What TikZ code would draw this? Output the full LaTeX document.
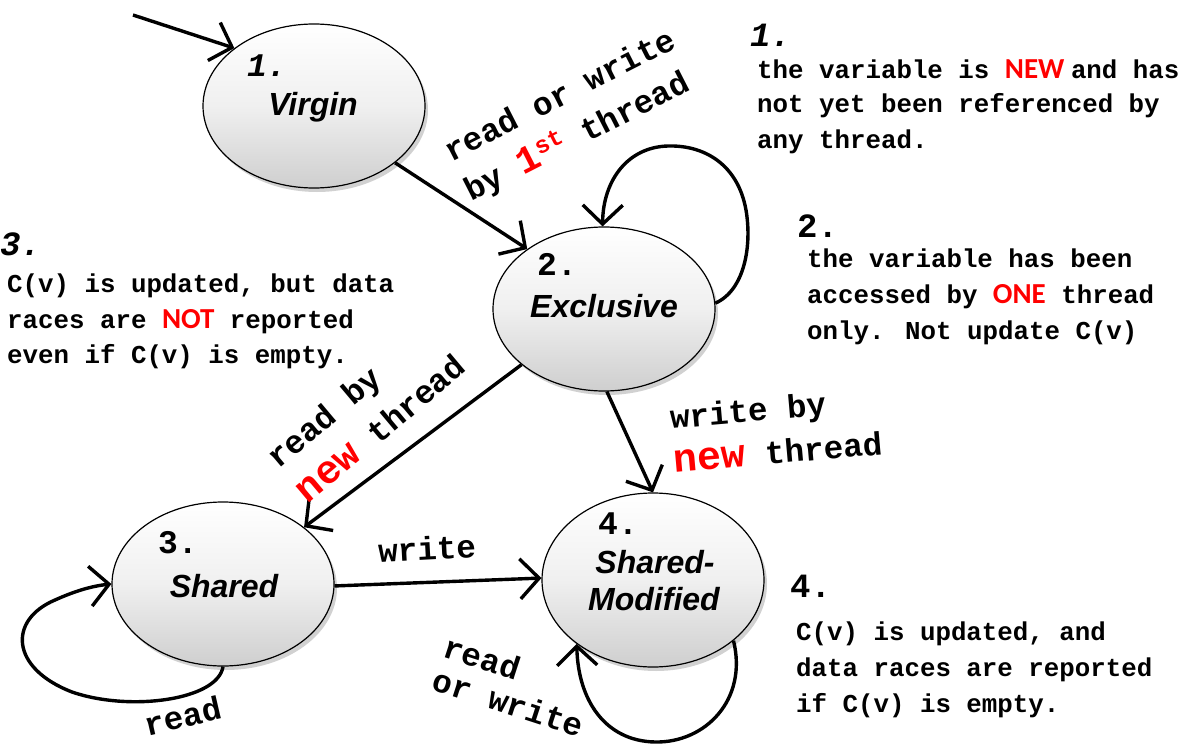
\documentclass[tikz,border=0pt]{standalone}
\usepackage{fontspec}
\usetikzlibrary{shapes.geometric,arrows.meta,shadows}
\newfontfamily\cour{Liberation Mono}
\newfontfamily\carl{Carlito}
\newfontfamily\arl{Liberation Sans}
\newcommand\hl[1]{{\color{red}\carl\bfseries\fontsize{29}{30}\selectfont #1}}
\newcommand\rnew{{\color{red}\fontsize{40}{40}\selectfont new}}
\tikzset{
  statebox/.style={ellipse, draw=black, line width=1.2pt, inner sep=0pt,
    minimum width=222pt, minimum height=164pt,
    top color=white, bottom color=gray!38, middle color=gray!12,
    drop shadow={shadow xshift=3pt, shadow yshift=-4pt, opacity=0.45, fill=gray!80}},
  statename/.style={font=\arl\bfseries\itshape\fontsize{32}{36}\selectfont, inner sep=0pt},
  statenum/.style={font=\cour\bfseries\fontsize{33}{36}\selectfont, inner sep=0pt},
  edgelab/.style={font=\cour\bfseries\fontsize{32.6}{#1}\selectfont, inner sep=0pt, align=left},
  edgelab/.default=36,
  annot/.style={font=\cour\bfseries\fontsize{25.8}{30}\selectfont, anchor=base west, inner sep=0pt},
  annum/.style={font=\cour\bfseries\fontsize{34}{36}\selectfont, anchor=base west, inner sep=0pt},
  conn/.style={line width=3.4pt, -{Straight Barb[length=19pt,width=40pt]}},
}
\begin{document}
\begin{tikzpicture}[x=1pt,y=-1pt]
\path[use as bounding box, fill=white] (0,0) rectangle (1179,752);

% states
\node[statebox] (v) at (314,106) {};
\node[statebox] (e) at (604,309) {};
\node[statebox] (s) at (223,584) {};
\node[statebox, minimum height=174pt] (m) at (653,580) {};

\node[statenum, font=\cour\bfseries\itshape\fontsize{33}{36}\selectfont] (vn) at (267,66) {1.};
\node[statename] (vt) at (313,107) {Virgin};
\node[statenum] (en) at (557,264) {2.};
\node[statename] (et) at (604,306) {Exclusive};
\node[statenum] (sn) at (178,543) {3.};
\node[statename] (st) at (224,586) {Shared};
\node[statenum] (mn) at (618,524) {4.};
\node[statename] (mt1) at (655,562) {Shared-};
\node[statename] (mt2) at (654,599) {Modified};

% connectors
\coordinate (init) at (133,15);
\draw[conn] (init) -- (v.144);
\draw[conn] (v.-35) -- (e.142);
\draw[conn] (e.3) .. controls (745,290) and (752,245) .. (746,210)
  .. controls (738,165) and (705,145) .. (668,146)
  .. controls (628,147) and (603,180) .. (e.91);
\draw[conn] (e.214) -- (s.35);
\draw[conn] (e.-88) -- (m.90);
\draw[conn] (s.-1) -- (m.179);
\draw[conn] (s.-90) .. controls (218,700) and (130,712) .. (72,692)
  .. controls (10,668) and (8,620) .. (55,600)
  .. controls (75,591) and (92,586) .. (s.180);
\draw[conn] (m.-37) .. controls (748,700) and (705,743) .. (655,742)
  .. controls (605,741) and (578,700) .. (m.-140);

% edge labels
\node[edgelab=44, rotate=27] (l1) at (571,117) {read or write\\by {\color{red}\fontsize{38}{38}\selectfont 1\raisebox{11pt}{\fontsize{24}{24}\selectfont st}} thread};
\node[edgelab=45, rotate=40] (l2) at (366,411) {read by\\\rnew{} thread};
\node[edgelab=44, rotate=5] (l3) at (776,430) {write by\\\rnew{} thread};
\node[edgelab, rotate=3] (l4) at (427,548) {write};
\node[edgelab, rotate=13] (l5) at (183,716) {read};
\node[edgelab=35, rotate=-18] (l6) at (514,686) {read\\or write};

% annotations
\node[annum, font=\cour\bfseries\itshape\fontsize{34}{36}\selectfont] (a1) at (750,47) {1.};
\node[annot] (a1a) at (757,78) {the variable is \hl{NEW }and has};
\node[annot] (a1b) at (757,113) {not yet been referenced by};
\node[annot] (a1c) at (757,148) {any thread.};

\node[annum] (a2) at (797,237) {2.};
\node[annot] (a2a) at (807,267) {the variable has been};
\node[annot] (a2b) at (807,303) {accessed by \hl{ONE} thread};
\node[annot] (a2c) at (807,339) {only. Not update C(v)};

\node[annum, font=\cour\bfseries\itshape\fontsize{34}{36}\selectfont] (a3) at (0,255) {3.};
\node[annot] (a3a) at (7,292) {C(v) is updated, but data};
\node[annot] (a3b) at (7,328) {races are \hl{NOT} reported};
\node[annot] (a3c) at (7,363) {even if C(v) is empty.};

\node[annum] (a4) at (790,597) {4.};
\node[annot] (a4a) at (796,640) {C(v) is updated, and};
\node[annot] (a4b) at (796,676) {data races are reported};
\node[annot] (a4c) at (796,712) {if C(v) is empty.};
\end{tikzpicture}
\end{document}
